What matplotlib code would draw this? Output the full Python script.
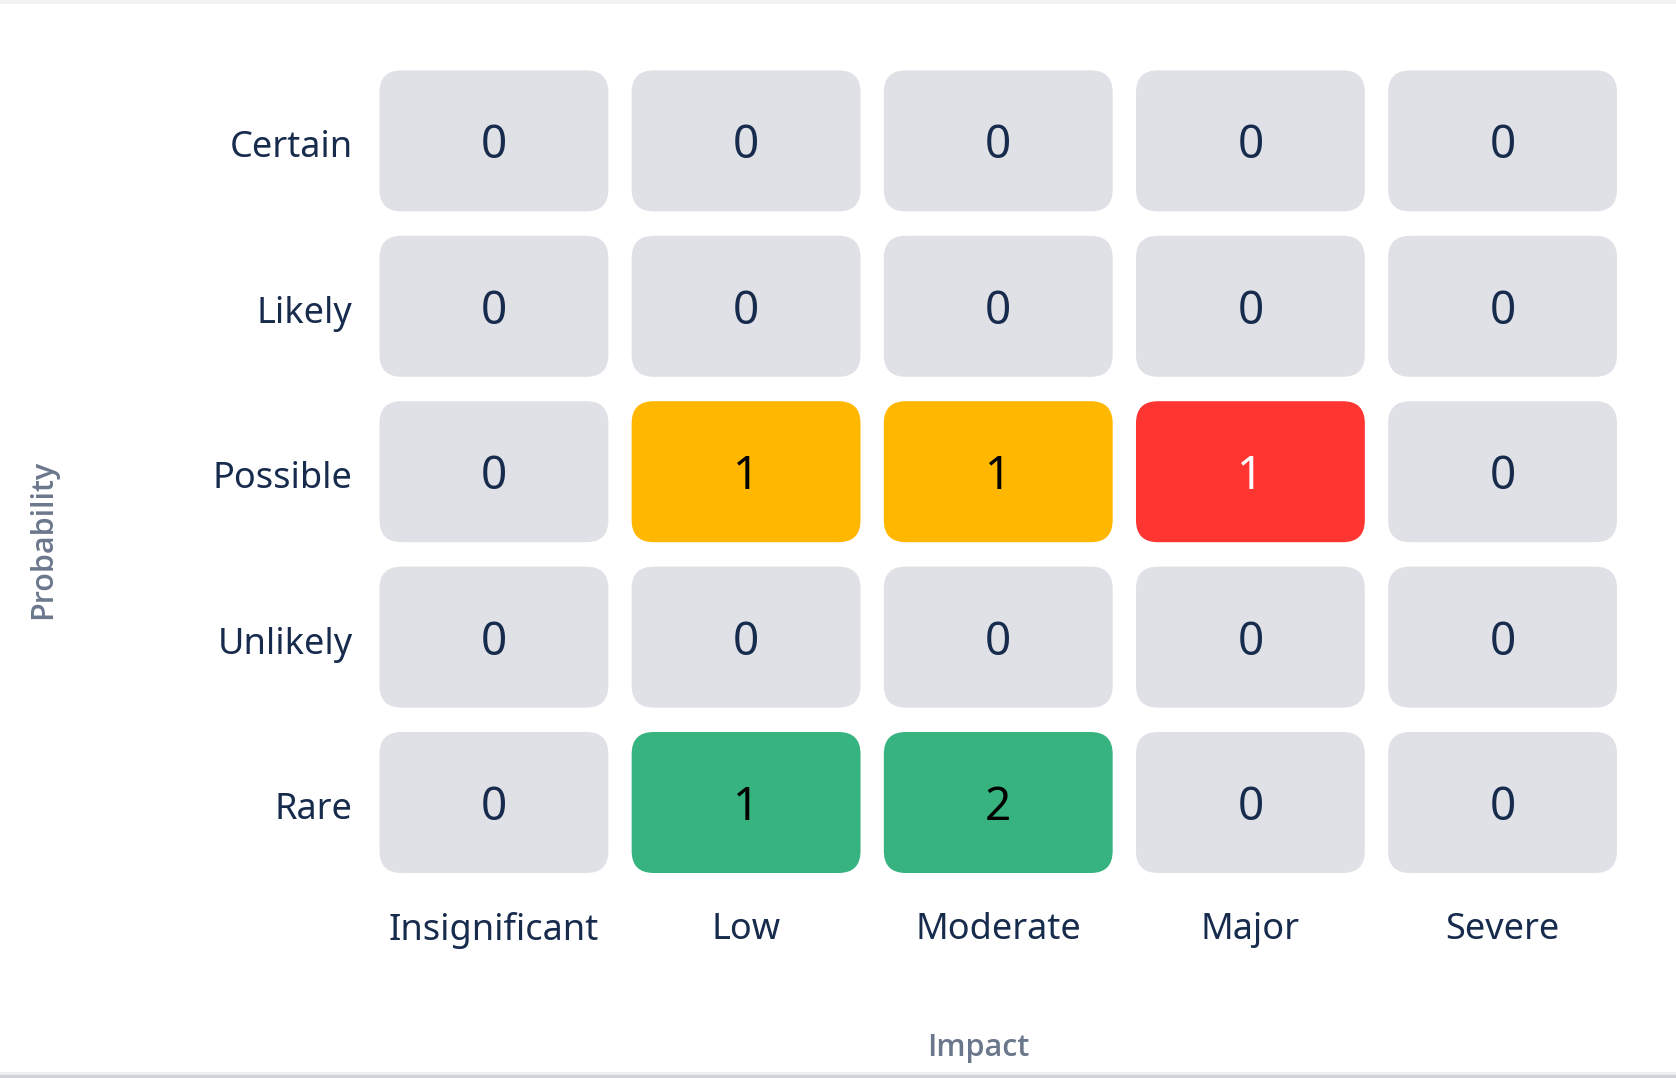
import numpy as np
import matplotlib.pyplot as plt
import matplotlib.transforms as mtransforms
from matplotlib.patches import FancyBboxPatch, Rectangle

plt.rcParams['font.family'] = ['Noto Sans', 'DejaVu Sans']

# dati della matrice di rischio
impact = ['Insignificant', 'Low', 'Moderate', 'Major', 'Severe']
probability = ['Certain', 'Likely', 'Possible', 'Unlikely', 'Rare']
counts = np.array([
    [0, 0, 0, 0, 0],
    [0, 0, 0, 0, 0],
    [0, 1, 1, 1, 0],
    [0, 0, 0, 0, 0],
    [0, 1, 2, 0, 0],
])
# livello di rischio per le celle con conteggio > 0
levels = {(2, 1): 'medium', (2, 2): 'medium', (2, 3): 'high',
          (4, 1): 'low', (4, 2): 'low'}

fill = {'none': '#dfe1e6', 'low': '#36b37e', 'medium': '#ffb700', 'high': '#ff3532'}
text_col = {'none': '#172b4d', 'low': '#000000', 'medium': '#000000', 'high': '#ffffff'}

W, H = 1676, 1078
fig = plt.figure(figsize=(W / 100, H / 100), dpi=100)
fig.patch.set_facecolor('white')

# bordo superiore e inferiore come nello screenshot
fig.patches.append(Rectangle((0, 1 - 4 / H), 1, 4 / H, transform=fig.transFigure,
                             facecolor='#f1f2f4', edgecolor='none'))
fig.patches.append(Rectangle((0, 0), 1, 3 / H, transform=fig.transFigure,
                             facecolor='#cfd3d8', edgecolor='none'))
fig.patches.append(Rectangle((0, 3 / H), 1, 3 / H, transform=fig.transFigure,
                             facecolor='#eceef0', edgecolor='none'))

ax = fig.add_axes([367.85 / W, 1 - 885.2 / H, 1260.8 / W, 827 / H])
nr, nc = counts.shape
ax.set_xlim(-0.5, nc - 0.5)
ax.set_ylim(nr - 0.5, -0.5)

px_x = 1260.8 / nc   # pixel per unita' x
px_y = 827 / nr      # pixel per unita' y
gx = 11.65 / px_x
gy = 12.2 / px_y
rad = 22 / px_x
aspect = px_x / px_y
digit_off = 17.5 / px_y

for r in range(nr):
    for c in range(nc):
        lev = levels.get((r, c), 'none')
        box = FancyBboxPatch((c - 0.5 + gx, r - 0.5 + gy), 1 - 2 * gx, 1 - 2 * gy,
                             boxstyle=f'round,pad=0,rounding_size={rad}',
                             mutation_aspect=aspect,
                             facecolor=fill[lev], edgecolor='none')
        ax.add_patch(box)
        ax.text(c, r + digit_off, str(counts[r, c]), ha='center', va='baseline',
                fontsize=33, color=text_col[lev])

ax.set_xticks(range(nc))
ax.set_xticklabels(impact)
ax.set_yticks(range(nr))
ax.set_yticklabels(probability)
ax.tick_params(length=0, labelsize=26, labelcolor='#172b4d')
ax.tick_params(axis='y', pad=11)
ax.tick_params(axis='x', pad=19.5)
shift = mtransforms.ScaledTranslation(0, -3 / 100, fig.dpi_scale_trans)
for lab in ax.get_yticklabels():
    lab.set_transform(lab.get_transform() + shift)
for s in ax.spines.values():
    s.set_visible(False)

title_font = ['Open Sans', 'Lato', 'DejaVu Sans']
fig.text(978 / W, 1 - 1048 / H, 'Impact', ha='center', va='center',
         fontsize=22, fontweight='semibold', family=title_font, color='#6b778c')
fig.text(43 / W, 1 - 539 / H, 'Probability', ha='center', va='center', rotation=90,
         fontsize=22, fontweight='semibold', family=title_font, color='#6b778c')

fig.savefig('out.png', dpi=100)
